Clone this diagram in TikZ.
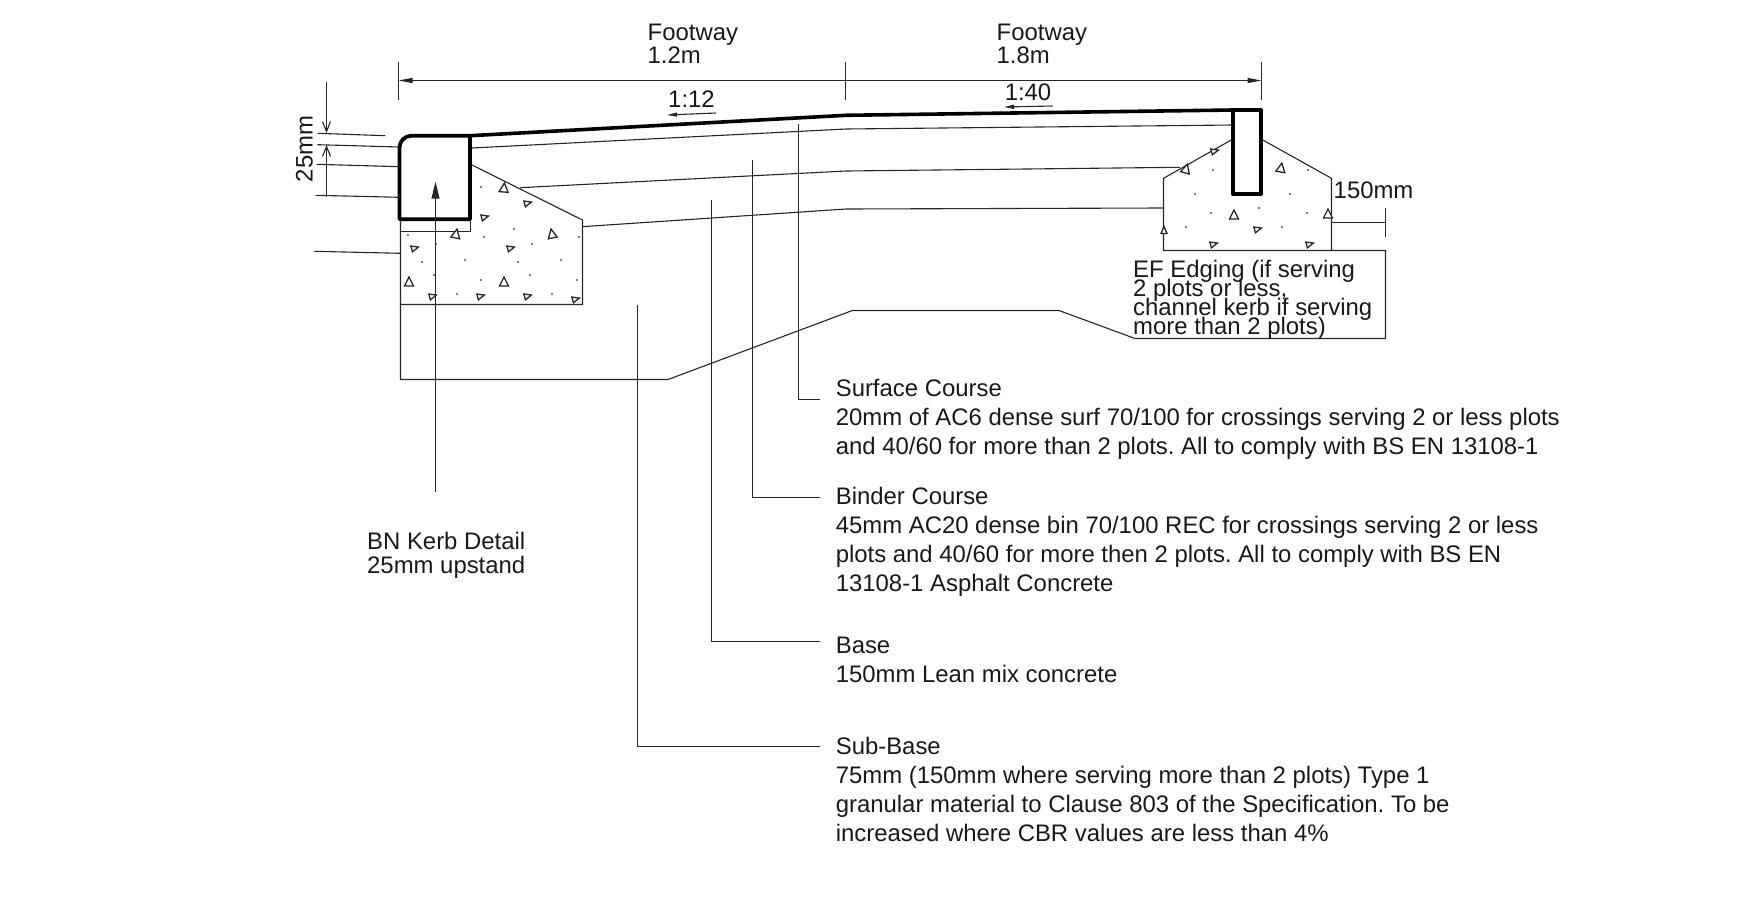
\documentclass[tikz,border=0pt]{standalone}
\usepackage{fontspec}
\setmainfont{Liberation Sans}
\usetikzlibrary{arrows.meta}
\frenchspacing
\lineskiplimit=-30pt

\tikzset{
	hairline/.style={line width=1.1pt, draw=black!85},
	kerbline/.style={line width=3.8pt, draw=black, line join=round},
	label/.style={inner sep=0, text=black!90, font=\fontsize{23.9}{29}\selectfont},
	tightlabel/.style={label, align=left, font=\fontsize{23.9}{19}\selectfont},
	block/.style={label, align=left, anchor=north west},
	solidtip/.style={-{Triangle[length=14pt, width=5pt]}},
	slopetip/.style={-{Triangle[length=10pt, width=4pt]}},
	barbtip/.style={-{Straight Barb[length=10pt, width=8pt]}},
}

\begin{document}
\begin{tikzpicture}[x=1pt, y=-1pt]
	\useasboundingbox (0, 0) rectangle (1754, 921);
	
	% Surface and layers
	\draw [kerbline, line width=3.6pt] (470, 135.7) -- (846, 115.3) -- (1233, 110);
	\draw [hairline] (472, 148) -- (846, 129) -- (1233, 125);
	\draw [hairline] (520, 187.7) -- (846, 171) -- (1180, 167.3);
	\draw [hairline] (582, 226.7) -- (846, 209) -- (1163, 208);
	
	% Left haunch
	\draw [hairline] (400.5, 220) -- (400.5, 304.5) -- (582.5, 304.5) -- (582.5, 220) -- (472, 165);
	\draw [hairline] (400.5, 231.5) -- (470.5, 231.5) -- (470.5, 219);
	
	% Right haunch
	\draw [hairline]
	      (1233, 139) --
	      (1163.5, 178.3) --
	      (1163.5, 250.5) --
	      (1331.5, 250.5) --
	      (1331.5, 178.3) --
	      (1261, 139);
	
	% Sub-base outline
	\draw [hairline]
	      (400.5, 304.5) --
	      (400.5, 379.5) --
	      (668, 379.5) --
	      (852.4, 310.5) --
	      (1059, 310.5) --
	      (1135, 338.5) --
	      (1385.5, 338.5) --
	      (1385.5, 250.5) --
	      (1331.5, 250.5);
	
	% Aggregate
	\foreach \x/\y/\r in {504/188/-5,456/234/-12,552/234/12,409/282/0,504/282/0,1186/169/-15,1281/168/-10,1234/215/0,1328/214/0}{
		\draw [hairline, line width=1.3pt, fill=white, shift={(\x, \y)}, rotate=\r]
		      (-4.5, 4) -- (4.5, 4) -- (0, -5) -- cycle;
	}
	\foreach \x/\y/\r in {528/203/-75,485/217/-75,415/248/-75,511/248/-75,433/296/-75,481/296/-75,528/296/-75,576/299/-75,1215/151/-75,1258/229/-75,1214/244/-75,1310/244/-75,1164/230/0}{
		\draw [hairline, line width=1.3pt, fill=white, shift={(\x, \y)}, rotate=\r]
		      (-3, 3.5) -- (3, 3.5) -- (0, -3.5) -- cycle;
	}
	\foreach \x/\y in {481/187,408/235,436/244,484/237,514/229,532/244,579/237,422/262,465/260,518/262,561/260,434/275,481/280,530/275,577/280,457/294,552/294,1213/170,1308/170,1195/194,1290/194,1211/213,1259/208,1307/213,1186/227,1282/227}{
		\fill [black] (\x, \y) circle (0.9);
	}
	
	% Kerbs
	\draw [kerbline, fill=white]
	      (399.5, 219.3) [rounded corners=12pt] --
	      (399.5, 135.7) [sharp corners] --
	      (470, 135.7) --
	      (470, 219.3) -- cycle;
	\draw [kerbline, fill=white] (1232.7, 110) rectangle (1261, 194);
	
	% Width dimension
	\coordinate (dimL) at (398.5, 80.5);
	\coordinate (dimM) at (845.5, 80.5);
	\coordinate (dimR) at (1261.5, 80.5);
	\foreach \c in {dimL,dimM,dimR}{
		\draw [hairline] (\c) ++(0, -18.5) -- ++(0, 37.5);
	}
	\draw [hairline, solidtip] (dimM) -- (dimL);
	\draw [hairline, solidtip] (dimM) -- (dimR);
	\node (footA) [label, anchor=west] at (647.5, 34.5) {Footway};
	\node (widthA) [label, anchor=west] at (647.5, 55) {1.2m};
	\node (footB) [label, anchor=west] at (996.5, 34.5) {Footway};
	\node (widthB) [label, anchor=west] at (996.5, 55) {1.8m};
	
	% Falls
	\node (fallA) [label] at (691.5, 99) {1:12};
	\node (fallB) [label] at (1028, 92.5) {1:40};
	\draw [hairline, slopetip] (716, 113) -- (667, 115);
	\draw [hairline, slopetip] (1052.7, 106) -- (1004, 107);
	
	% Upstand dimension
	\foreach \xa/\ya/\xb/\yb in {317.7/133.3/385.3/135.7,317.3/144.7/399.5/147,316.7/164.3/399.5/166.7,315.7/195.3/399.5/197.3,314.3/251.3/400/253.3}{
		\draw [hairline] (\xa, \ya) -- (\xb, \yb);
	}
	\draw [hairline, barbtip] (326.5, 81.7) -- (326.5, 133);
	\draw [hairline, barbtip] (326.5, 196.7) -- (326.5, 145);
	\node (upstand) [label, rotate=90] at (304.5, 149) {25mm};
	
	% Edging notes
	\draw [hairline] (1331.5, 222.5) -- (1385.5, 222.5);
	\draw [hairline] (1385.5, 207.7) -- (1385.5, 236.7);
	\node (edgeDepth) [label, anchor=west] at (1333.5, 190.7) {150mm};
	\node (edging)
	      [ tightlabel
	      , anchor=north west
	      ]
	      at (1133, 260)
	      {EF Edging (if serving\\2 plots or less,\\channel kerb if serving\\more than 2 plots)};
	
	% Kerb note
	\node (kerbNote)
	      [ label
	      , align=left
	      , anchor=north west
	      , font=\fontsize{23.9}{23.5}\selectfont
	      ]
	      at (367, 532)
	      {BN Kerb Detail\\25mm upstand};
	\coordinate (kerbTail) at (435.5, 492);
	\draw [hairline, -{Triangle[length=17pt, width=8pt]}] (kerbTail) -- (435.5, 181.7);
	
	% Layer notes
	\node (surface) [block] at (835.6, 379)
	      {Surface Course\\20mm of AC6 dense surf 70/100 for crossings serving 2 or less plots\\and 40/60 for more than 2 plots. All to comply with BS EN 13108-1};
	\node (binder) [block] at (835.6, 487.2)
	      {Binder Course\\45mm AC20 dense bin 70/100 REC for crossings serving 2 or less\\plots and 40/60 for more then 2 plots. All to comply with BS EN\\13108-1 Asphalt Concrete};
	\node (base) [block] at (835.6, 637.2)
	      {Base\\150mm Lean mix concrete};
	\node (subbase) [block] at (835.6, 736.5)
	      {Sub-Base\\75mm (150mm where serving more than 2 plots) Type 1\\granular material to Clause 803 of the Specification. To be\\increased where CBR values are less than 4\%};
	
	% Leaders
	\foreach \x/\y/\yy in {798.5/124.3/399.5,752.5/160/497.5,711.5/200/641.5,637.5/305.4/746.5}{
		\coordinate (top) at (\x, \y);
		\coordinate (elbow) at (\x, \yy);
		\coordinate (end) at (820, \yy);
		\draw [hairline] (top) -- (elbow) -- (end);
	}
\end{tikzpicture}
\end{document}
